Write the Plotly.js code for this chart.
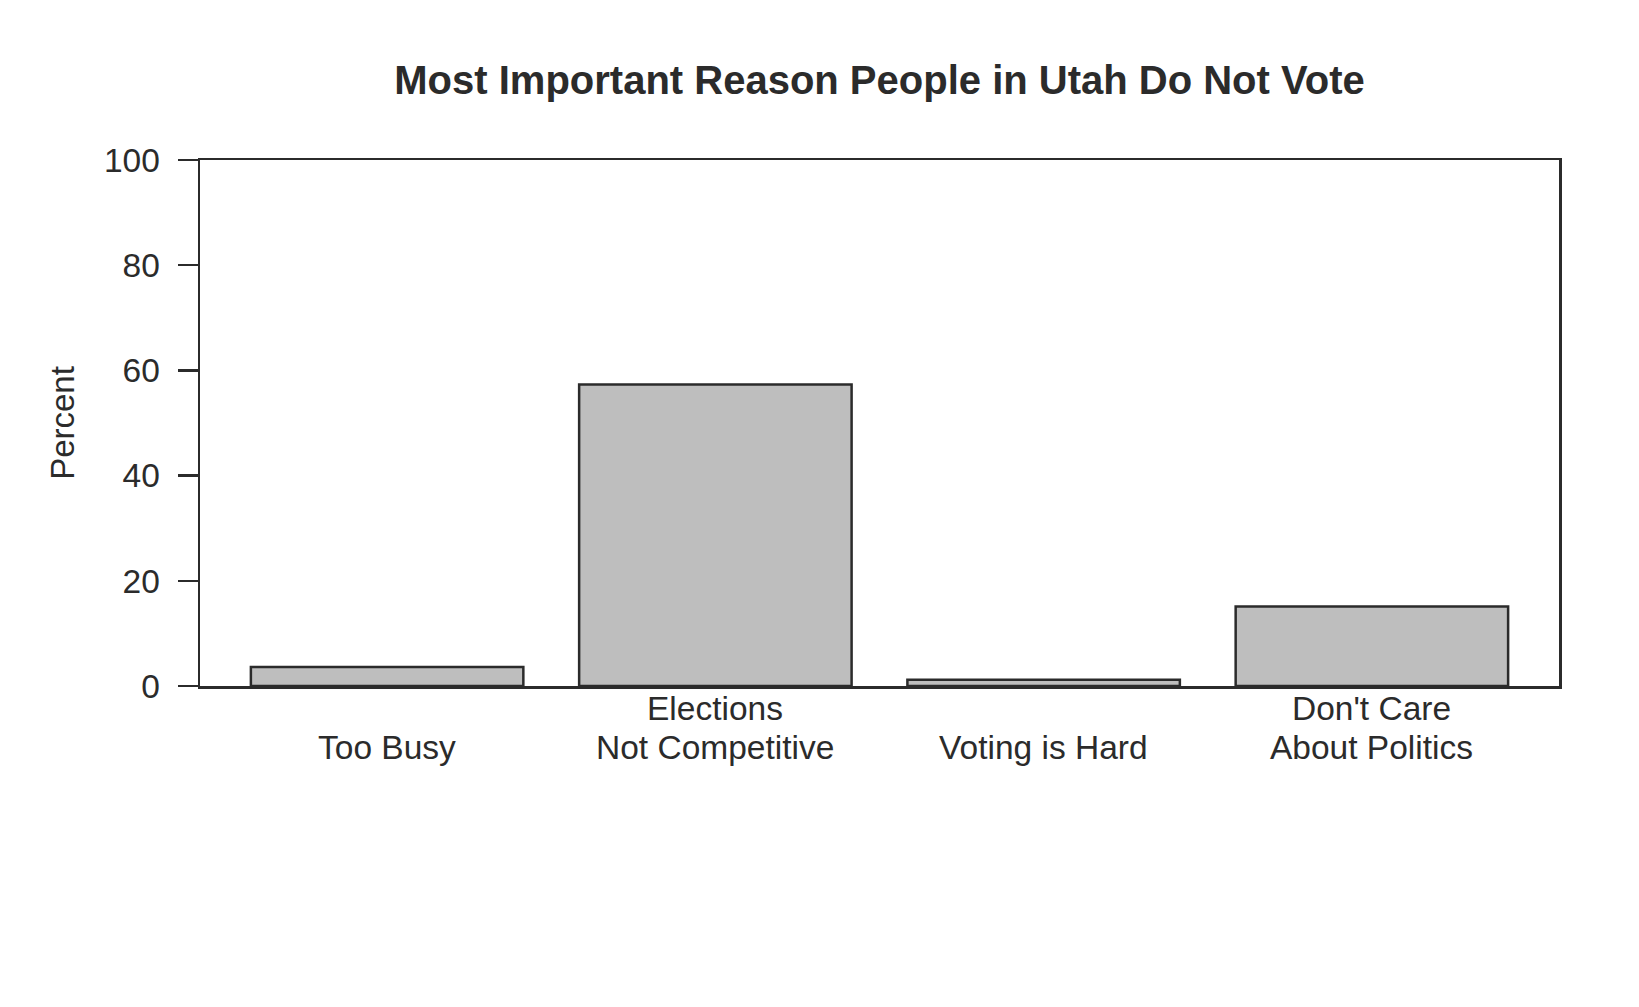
<!DOCTYPE html>
<html>
<head>
<meta charset="utf-8">
<script src="https://cdn.plot.ly/plotly-3.0.1.min.js"></script>
<style>
  html, body { margin: 0; padding: 0; background: #fff; }
  #chart { width: 1639px; height: 1007px; }
</style>
</head>
<body>
<div id="chart"></div>
<script>
// reasons and share of respondents (percent)
var reasons = ["Too Busy", "Elections Not Competitive", "Voting is Hard", "Don't Care About Politics"];
// printed labels, one entry per line (last line sits on the lower row)
var reasonLines = [["Too Busy"], ["Elections", "Not Competitive"], ["Voting is Hard"], ["Don't Care", "About Politics"]];
var percent = [3.6, 57.3, 1.2, 15.1];
var yTicks = [0, 20, 40, 60, 80, 100];

var ink = "#2b2b2b";
var font = "Liberation Sans, Arial, sans-serif";
var fs = 33.5;

var trace = {
  type: "bar",
  x: reasons,
  y: percent,
  marker: {
    color: "#bebebe",
    line: { color: ink, width: 2.5 }
  },
  hoverinfo: "x+y"
};

// category labels under the axis, bottom-aligned like R's barplot names
var labelNotes = [];
reasonLines.forEach(function (lines, i) {
  var n = lines.length;
  lines.forEach(function (txt, j) {
    var row = 1 - (n - 1 - j); // 1 = lower row, 0 = upper row
    labelNotes.push({
      text: txt,
      x: reasons[i],
      xref: "x",
      y: 0,
      yref: "paper",
      yanchor: "middle",
      xanchor: "center",
      yshift: row === 1 ? -61.5 : -22,
      showarrow: false,
      font: { family: font, size: fs, color: ink }
    });
  });
});

var layout = {
  width: 1639,
  height: 1007,
  paper_bgcolor: "#ffffff",
  plot_bgcolor: "#ffffff",
  margin: { l: 200, r: 80, t: 160, b: 321, pad: 0 },
  font: { family: font, color: ink, size: fs },
  showlegend: false,
  bargap: 0.17,
  title: {
    text: "<b>Most Important Reason People in Utah Do Not Vote</b>",
    font: { family: font, size: 40, color: ink },
    x: 0.5,
    xref: "paper",
    y: 1 - 80 / 1007,
    yref: "container",
    yanchor: "middle"
  },
  xaxis: {
    type: "category",
    range: [-0.57, 3.57],
    showticklabels: false,
    ticks: "",
    showgrid: false,
    zeroline: false,
    showline: true,
    mirror: true,
    linecolor: ink,
    linewidth: 2.5,
    fixedrange: true
  },
  yaxis: {
    range: [0, 100],
    tickvals: yTicks,
    ticktext: yTicks.map(String),
    ticks: "outside",
    ticklen: 20,
    tickwidth: 2.5,
    tickcolor: ink,
    showgrid: false,
    zeroline: false,
    showline: true,
    mirror: true,
    linecolor: ink,
    linewidth: 2.5,
    tickfont: { family: font, size: fs, color: ink },
    ticklabelstandoff: 11,
    title: {
      text: "Percent",
      font: { family: font, size: 33, color: ink },
      standoff: 20
    },
    fixedrange: true
  },
  annotations: labelNotes
};

Plotly.newPlot("chart", [trace], layout, { displayModeBar: false, staticPlot: true });
</script>
</body>
</html>
